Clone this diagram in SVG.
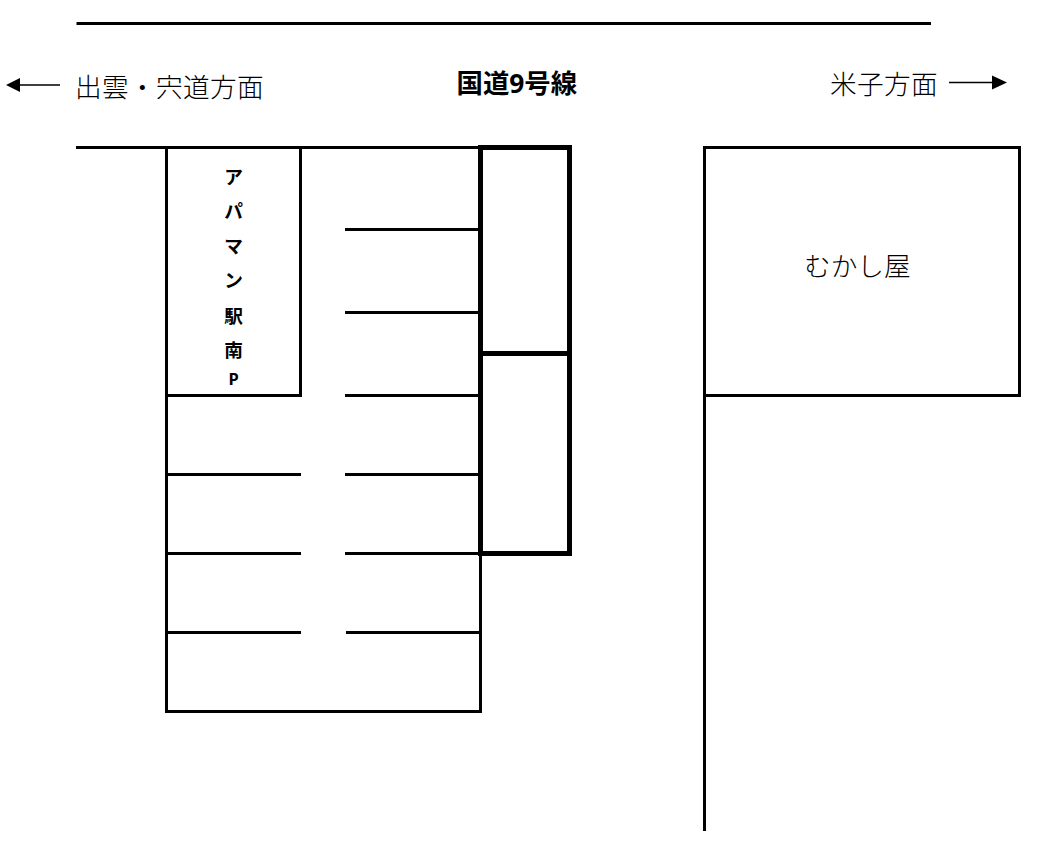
<svg xmlns="http://www.w3.org/2000/svg" width="1043" height="847" viewBox="0 0 1043 847">
<style>
text{font-family:"Open Sans","Noto Sans CJK JP",sans-serif;fill:#000}
.l{font-size:26.67px;font-family:"Noto Sans CJK JP",sans-serif;font-weight:300;fill:#000}
.w{letter-spacing:.33px}
.v{font-size:18.67px;font-weight:700;text-anchor:middle;font-family:"Noto Sans","Noto Sans CJK JP",sans-serif}
.s{stroke:#000;stroke-width:3;fill:none}
.t{stroke:#000;stroke-width:5;fill:none}
.a{stroke:#000;stroke-width:1.3;fill:none}
</style>
<rect width="1043" height="847" fill="#fff"/>
<g id="connectors">
<path class="s" d="M76.500 23.500H931M76 147.500H480"/>
<path class="a" d="M20 85H60M949 82.500H994"/>
<path d="M6 85L20 78V92Z"/><path d="M1007 82.500L992 75.500V89.500Z"/>
<path class="s" d="M345 229.500H480M345 312.500H480M345 395.500H480M167 474.500H301M345 474.500H480M167 553.500H301M345 553.500H480M167 632.500H301M346 632.500H480"/>
<path class="s" d="M704.500 395V831"/>
</g>
<g id="apaman"><rect class="s" x="166.500" y="147.500" width="134" height="248"/>
<text class="v" x="233.500" y="184">ア</text><text class="v" x="233.500" y="218">パ</text><text class="v" x="233.500" y="253">マ</text><text class="v" x="233.500" y="287">ン</text><text class="v" x="233.500" y="323">駅</text><text class="v" x="233.500" y="357">南</text><text class="v" x="233.500" y="385" style="font-size:16.500px">P</text></g>
<g id="lot"><path class="s" d="M166.500 395V711.500H480.500V147"/></g>
<g id="building1"><rect class="t" x="480.500" y="147.500" width="89" height="206"/></g>
<g id="building2"><rect class="t" x="480.500" y="353.500" width="89" height="200"/></g>
<g id="mukashiya"><rect class="s" x="704.500" y="147.500" width="315" height="248"/><text class="l" x="804" y="275.500">むかし屋</text></g>
<g id="labels">
<text class="l w" x="75" y="97">出雲・宍道方面</text>
<text x="456.500" y="93" style="font-size:26.400px;font-weight:700">国道9号線</text>
<text class="l w" x="830" y="94">米子方面</text>
</g>
</svg>
